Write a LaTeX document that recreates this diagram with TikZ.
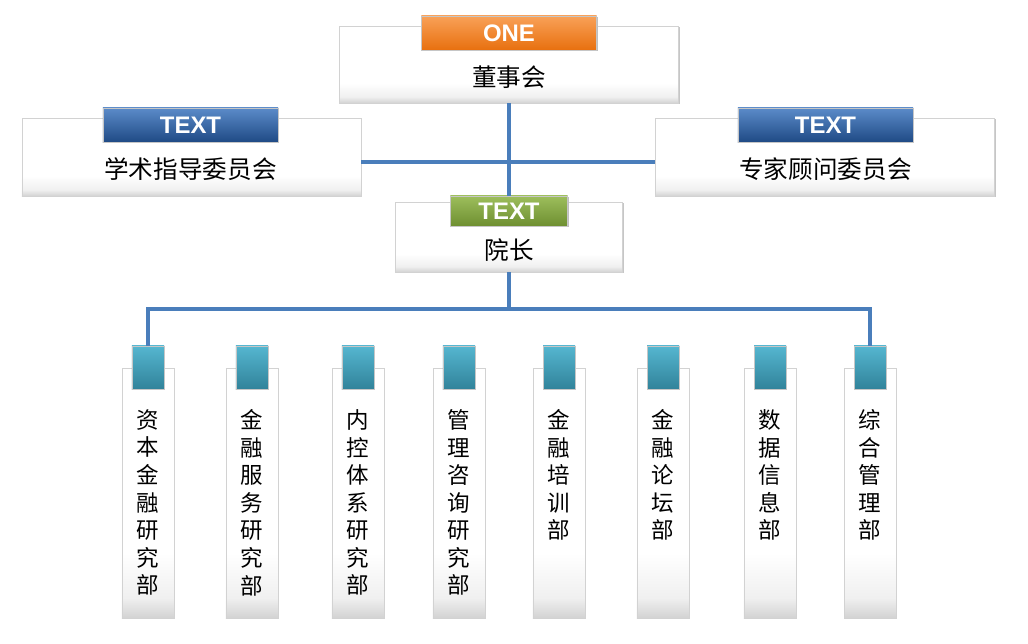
\documentclass[tikz,border=0pt]{standalone}
\usepackage{fontspec}
\setmainfont{Liberation Sans}
\newfontfamily\cjk{Noto Sans CJK SC}
\usetikzlibrary{positioning, shadows}
\definecolor{linkblue}{HTML}{4A7EBB}
\definecolor{onetop}{HTML}{F9A158}
\definecolor{onebot}{HTML}{E8700F}
\definecolor{bluetop}{HTML}{5B8BC9}
\definecolor{bluebot}{HTML}{1F4A85}
\definecolor{greentop}{HTML}{9DBE5C}
\definecolor{greenbot}{HTML}{6E8F31}
\definecolor{tealtop}{HTML}{55B6D0}
\definecolor{tealbot}{HTML}{31839A}
\pgfdeclareverticalshading{panelshade}{100bp}{color(0bp)=(gray!35);
  color(25bp)=(gray!35); color(29bp)=(gray!12); color(38bp)=(white);
  color(100bp)=(white)}
\tikzset{
  link/.style = {draw = linkblue, line width = 2.4pt},
  panel/.style = {draw = gray!35, shading = panelshade,
    general shadow = {fill = gray!45, shadow xshift = 1pt, shadow yshift = -1pt}},
  tab/.style 2 args = {draw = gray!45, top color = #1, bottom color = #2,
    text = white, font = \fontsize{17}{20}\selectfont\bfseries,
    minimum width = 4.375cm, minimum height = 0.85cm, inner sep = 0pt,
    general shadow = {fill = gray!50, shadow xshift = 0.8pt, shadow yshift = -0.8pt}},
  title/.style = {inner sep = 0pt, font = \cjk\fontsize{17.5}{21}\selectfont},
  dept/.style = {panel, minimum width = 1.3cm, minimum height = 6.25cm},
  depttab/.style = {tab = {tealtop}{tealbot}, minimum width = 0.8cm,
    minimum height = 1.075cm},
  deptname/.style = {inner sep = 0pt, align = center,
    font = \cjk\fontsize{16}{19.6}\selectfont}
}

\begin{document}
\begin{tikzpicture}[x = 0.025cm, y = 0.025cm]
\useasboundingbox (0,0) rectangle (1028,-644);

%% Board
\node [panel, minimum width = 8.475cm, minimum height = 1.925cm] (board) at (509,-64.5) {};
\node [tab = {onetop}{onebot}] (boardtab) at (509,-33) {ONE};
\node [title, below = 3.75mm of boardtab] (boardname) {董事会};

%% Committees
\node [panel, minimum width = 8.475cm, minimum height = 1.95cm] (academic) at (191.5,-157) {};
\node [tab = {bluetop}{bluebot}] (academictab) at (190.5,-125) {TEXT};
\node [title, below = 3.75mm of academictab] (academicname) {学术指导委员会};

\node [panel, minimum width = 8.475cm, minimum height = 1.95cm] (expert) at (825,-157) {};
\node [tab = {bluetop}{bluebot}] (experttab) at (825.5,-125) {TEXT};
\node [title, below = 3.75mm of experttab] (expertname) {专家顾问委员会};

%% Dean
\node [panel, minimum width = 5.675cm, minimum height = 1.75cm] (dean) at (509,-237) {};
\node [tab = {greentop}{greenbot}, minimum width = 2.925cm, minimum height = 0.75cm]
  (deantab) at (509,-211) {TEXT};
\node [title, below = 3mm of deantab] (deanname) {院长};

%% Departments
\foreach \x/\lbl [count=\i] in {148/{资\\本\\金\\融\\研\\究\\部},
    252/{金\\融\\服\\务\\研\\究\\部}, 358/{内\\控\\体\\系\\研\\究\\部},
    459/{管\\理\\咨\\询\\研\\究\\部}, 559/{金\\融\\培\\训\\部},
    663/{金\\融\\论\\坛\\部}, 770/{数\\据\\信\\息\\部}, 870/{综\\合\\管\\理\\部}} {
  \node [dept] (dept\i) at (\x,-493) {};
  \node [depttab] (dtab\i) at (\x,-367.5) {};
  \node [deptname, below = 5mm of dtab\i] (dname\i) {\lbl};
}

%% Links
\coordinate (bus) at (509,-309);
\path [link] (board) -- (deantab);
\path [link] ([yshift = -1.25mm]academic.east) -- ([yshift = -1.25mm]expert.west);
\path [link] (dean) -- (bus);
\path [link] (dtab1.north) |- (bus) -| (dtab8.north);

\end{tikzpicture}
\end{document}
